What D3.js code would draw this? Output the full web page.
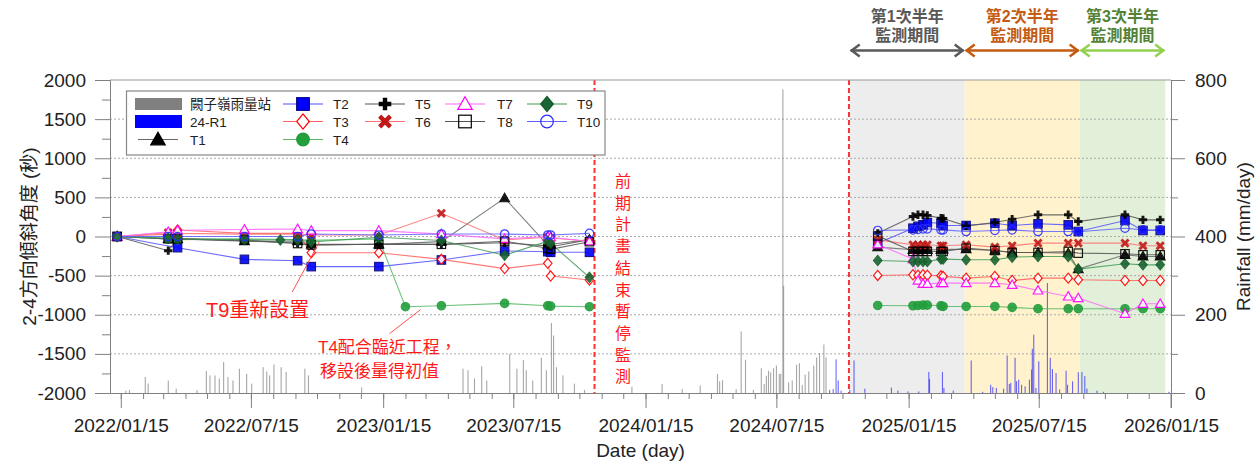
<!DOCTYPE html>
<html>
<head>
<meta charset="utf-8">
<script src="https://cdn.jsdelivr.net/npm/d3@7"></script>
<style>
body { margin: 0; background: #fff; }
svg text { font-family: "Liberation Sans", Arial, "Noto Sans CJK TC", sans-serif; }
.cjk { font-family: "Noto Sans CJK TC", "Liberation Sans", sans-serif; }
</style>
</head>
<body>
<svg id="chart" width="1260" height="461"></svg>
<script>
// survey dates (前期: 2022-2023, 本期: 2024/12 起)
var surveyDates = [
	"2022/01/10", "2022/03/22", "2022/04/04", "2022/07/06", "2022/08/25", "2022/09/18", "2022/10/07",
	"2023/01/09", "2023/02/15", "2023/04/06", "2023/07/03", "2023/09/01", "2023/09/05", "2023/10/29",
	"2024/12/03", "2025/01/21", "2025/01/28", "2025/02/04", "2025/02/10", "2025/03/01", "2025/03/04",
	"2025/04/05", "2025/05/15", "2025/06/08", "2025/07/14", "2025/08/25", "2025/09/08", "2025/11/12",
	"2025/12/07", "2025/12/31"
];
var seriesNames = ["T1", "T2", "T3", "T4", "T5", "T6", "T7", "T8", "T9", "T10"];
var t1 = [0, -30, -30, -60, null, -60, -100, -100, null, -66, 490, -109, -100, -40,
	-136, -170, -175, -170, -170, -170, -165, -162, -179, -204, -204, -213, -417, -234, -255, -255];
var t2 = [0, null, -143, -292, null, -309, -385, -385, null, -300, -185, -194, -202, -202,
	-85, 106, 130, 149, 179, 170, 140, 140, 170, 140, 162, 149, 64, 204, 77, 77];
var t3 = [0, 30, 83, 40, null, 40, -207, -207, null, -292, -410, -343, -505, -556,
	-498, -489, -495, -489, -495, -502, -510, -532, -511, -562, -532, -532, -553, -562, -562, -562];
var t4 = [0, -30, -40, -30, null, -40, -50, -30, -897, -885, -855, -885, -890, -897,
	-881, -885, -881, -877, -877, -885, -894, -894, -894, -906, -923, -923, -923, -923, -923, -923];
var t5 = [0, -181, -30, -55, null, -87, -109, -100, null, -100, -80, -120, -130, -40,
	40, 255, 277, 277, 270, 234, 230, 136, 179, 221, 277, 277, 191, 277, 213, 213];
var t6 = [0, 50, 40, 30, null, 30, 20, 20, null, 296, -45, -10, -20, -60,
	-43, -106, -106, -106, -106, -119, -119, -106, -136, -119, -85, -85, -85, -85, -119, -119];
var t7 = [0, 60, 80, 90, null, 96, 75, 75, null, 30, -30, 0, -10, -60,
	-100, -289, -562, -604, -604, -596, -596, -596, -596, -617, -689, -766, -787, -987, -860, -860];
var t8 = [0, -30, -30, -45, null, -90, -109, -100, null, -100, -60, -150, -164, -66,
	8, -191, -191, -191, -191, -191, -191, -149, -179, -204, -204, -191, -213, -221, -234, -234];
var t9 = [0, -20, -30, -40, -45, -45, -70, -10, null, -52, -240, -60, -87, -522,
	-306, -319, -319, -319, -319, -289, -289, -298, -298, -264, -255, -255, -417, -349, -362, -362];
var t10 = [0, 0, 0, 0, null, 0, 32, 19, null, 32, 32, 19, 19, 40,
	77, 85, 90, 98, 98, 85, 85, 64, 77, 85, 64, 64, 60, 106, 85, 85];

// daily rainfall (mm/day)
var rainStation = [
	["2022/01/22", 6], ["2022/01/27", 8], ["2022/02/18", 41], ["2022/02/22", 24], ["2022/03/22", 32],
	["2022/04/02", 11], ["2022/05/01", 7], ["2022/05/14", 56], ["2022/05/19", 45], ["2022/05/26", 45],
	["2022/06/01", 37], ["2022/06/07", 79], ["2022/06/13", 41], ["2022/06/20", 32], ["2022/06/29", 62],
	["2022/07/09", 49], ["2022/07/16", 24], ["2022/08/01", 66], ["2022/08/06", 55], ["2022/08/10", 45],
	["2022/08/16", 73], ["2022/08/26", 66], ["2022/09/02", 54], ["2022/09/28", 62], ["2022/10/03", 45],
	["2022/12/16", 14], ["2023/05/06", 62], ["2023/05/13", 58], ["2023/05/22", 37], ["2023/06/01", 68],
	["2023/06/08", 32], ["2023/07/10", 100], ["2023/07/20", 62], ["2023/07/29", 84], ["2023/08/02", 58],
	["2023/08/11", 32], ["2023/08/23", 90], ["2023/08/30", 58], ["2023/09/06", 179], ["2023/09/09", 147],
	["2023/09/13", 66], ["2023/09/22", 45], ["2023/10/08", 24], ["2023/10/22", 8], ["2023/12/27", 16],
	["2024/02/07", 23], ["2024/03/06", 10], ["2024/03/31", 19], ["2024/04/24", 49], ["2024/04/27", 30],
	["2024/05/01", 33], ["2024/05/20", 10], ["2024/05/27", 157], ["2024/06/02", 85], ["2024/06/13", 8],
	["2024/06/24", 63], ["2024/06/28", 23], ["2024/07/01", 44], ["2024/07/04", 57], ["2024/07/07", 53],
	["2024/07/11", 63], ["2024/07/15", 70], ["2024/07/19", 49], ["2024/07/21", 49], ["2024/07/24", 776],
	["2024/07/25", 274], ["2024/08/01", 27], ["2024/08/06", 32], ["2024/08/12", 72], ["2024/08/16", 76],
	["2024/08/20", 20], ["2024/08/24", 47], ["2024/08/29", 55], ["2024/09/05", 70], ["2024/09/09", 91],
	["2024/09/13", 102], ["2024/09/19", 124], ["2024/09/22", 91]
];
var rain24R1 = [
	["2024/09/27", 8], ["2024/10/02", 10], ["2024/10/06", 86], ["2024/10/09", 32], ["2024/10/13", 6],
	["2024/10/25", 8], ["2024/10/31", 83], ["2024/11/15", 11], ["2024/12/22", 14], ["2024/12/31", 6],
	["2025/01/14", 4], ["2025/01/29", 4], ["2025/02/12", 54], ["2025/02/13", 36], ["2025/03/03", 54],
	["2025/03/05", 13], ["2025/03/18", 6], ["2025/04/12", 83], ["2025/04/28", 3], ["2025/05/09", 21],
	["2025/05/12", 15], ["2025/05/17", 13], ["2025/05/27", 11], ["2025/06/01", 96], ["2025/06/04", 23],
	["2025/06/06", 26], ["2025/06/12", 90], ["2025/06/14", 30], ["2025/06/17", 34], ["2025/06/21", 21],
	["2025/06/26", 17], ["2025/07/02", 34], ["2025/07/05", 60], ["2025/07/06", 113], ["2025/07/08", 149],
	["2025/07/11", 13], ["2025/07/15", 81], ["2025/07/27", 281], ["2025/07/31", 90], ["2025/08/03", 61],
	["2025/08/08", 51], ["2025/08/13", 9], ["2025/08/22", 57], ["2025/08/24", 21], ["2025/08/31", 30],
	["2025/09/08", 53], ["2025/09/13", 54], ["2025/09/17", 43], ["2025/09/20", 11], ["2025/10/04", 6],
	["2025/10/13", 3], ["2026/01/12", 3]
];

var periodLabels = [["第1次半年", "監測期間"], ["第2次半年", "監測期間"], ["第3次半年", "監測期間"]];
var periodStart = ["2024/10/25", "2025/04/03", "2025/09/10"];
var periodEnd = ["2025/04/03", "2025/09/10", "2026/01/07"];
var breakDates = ["2023/11/05", "2024/10/24"];
var xTickDates = ["2022/01/15", "2022/07/15", "2023/01/15", "2023/07/15", "2024/01/15",
	"2024/07/15", "2025/01/15", "2025/07/15", "2026/01/15"];

var parse = d3.timeParse("%Y/%m/%d");
var svg = d3.select("#chart");
var L = 110, R = 1171, T = 80, B = 393;

var x = d3.scaleTime().domain([parse("2021/12/31"), parse("2026/01/15")]).range([L, R]);
var y = d3.scaleLinear().domain([-2000, 2000]).range([B, T]);
var yR = d3.scaleLinear().domain([0, 800]).range([B, T]);

var allSeries = [t1, t2, t3, t4, t5, t6, t7, t8, t9, t10];
var styles = [
	{shape: "triangle", color: "#000", fill: "#000", line: "#666"},
	{shape: "square", color: "#000080", fill: "#0000ff", line: "#5050ff"},
	{shape: "diamond", color: "#ff0000", fill: "#fff", line: "#ff6060"},
	{shape: "circle", color: "#1f9a3a", fill: "#22a03c", line: "#55b865"},
	{shape: "plus", color: "#000", fill: "none", line: "#555"},
	{shape: "cross", color: "#c01818", fill: "none", line: "#ff7070"},
	{shape: "triangle", color: "#ff00ff", fill: "#fff", line: "#ff66ff"},
	{shape: "square", color: "#000", fill: "none", line: "#555"},
	{shape: "diamond", color: "#145a2a", fill: "#1a6632", line: "#3f9a55"},
	{shape: "circle", color: "#2a2aff", fill: "none", line: "#6060ff"}
];
var periodColors = [
	{bg: "#ededed", arrow: "#595959", text: "#595959"},
	{bg: "#fff2cc", arrow: "#c55a11", text: "#c55a11"},
	{bg: "#e2f0d9", arrow: "#92d050", text: "#548235"}
];

// shaded monitoring periods
periodStart.forEach(function(s, i) {
	var x0 = x(parse(s)), x1 = x(parse(periodEnd[i]));
	svg.append("rect").attr("x", x0).attr("y", T).attr("width", x1 - x0).attr("height", B - T)
		.attr("fill", periodColors[i].bg);
	// arrow
	var ay = 50.5, g = svg.append("g").attr("stroke", periodColors[i].arrow)
		.attr("stroke-width", 2.5).attr("fill", "none");
	g.append("line").attr("x1", x0 + 1).attr("x2", x1 - 1).attr("y1", ay).attr("y2", ay);
	g.append("path").attr("d", "M" + (x0 + 10) + "," + (ay - 6) + "L" + (x0 + 2) + "," + ay + "L" + (x0 + 10) + "," + (ay + 6));
	g.append("path").attr("d", "M" + (x1 - 10) + "," + (ay - 6) + "L" + (x1 - 2) + "," + ay + "L" + (x1 - 10) + "," + (ay + 6));
	var cx = (x0 + x1) / 2;
	svg.append("text").attr("x", cx).attr("y", 22).attr("text-anchor", "middle")
		.attr("font-size", 16).attr("font-weight", "bold").attr("fill", periodColors[i].text)
		.text(periodLabels[i][0]);
	svg.append("text").attr("x", cx).attr("y", 41).attr("text-anchor", "middle")
		.attr("font-size", 16).attr("font-weight", "bold").attr("fill", periodColors[i].text)
		.text(periodLabels[i][1]);
});

// dotted grid
svg.append("g").selectAll("line").data(d3.range(-1500, 2000, 500)).enter().append("line")
	.attr("x1", L).attr("x2", R).attr("y1", function(d) { return y(d); }).attr("y2", function(d) { return y(d); })
	.attr("stroke", "#aaa").attr("stroke-width", 1).attr("stroke-dasharray", "2,2");

// rainfall bars
svg.append("g").selectAll("rect").data(rainStation).enter().append("rect")
	.attr("x", function(d) { return x(parse(d[0])) - 0.5; })
	.attr("y", function(d) { return yR(d[1]); })
	.attr("width", 1.1)
	.attr("height", function(d) { return B - yR(d[1]); })
	.attr("fill", "#8a8a8a").attr("opacity", 0.75);
svg.append("g").selectAll("rect").data(rain24R1).enter().append("rect")
	.attr("x", function(d) { return x(parse(d[0])) - 0.5; })
	.attr("y", function(d) { return yR(d[1]); })
	.attr("width", 1.1)
	.attr("height", function(d) { return B - yR(d[1]); })
	.attr("fill", "#1a1aff").attr("opacity", 0.65);

// red dashed breaks
breakDates.forEach(function(d) {
	svg.append("line").attr("x1", x(parse(d))).attr("x2", x(parse(d))).attr("y1", T).attr("y2", B)
		.attr("stroke", "#ff3030").attr("stroke-width", 2).attr("stroke-dasharray", "5,3");
});

// markers
function marker(g, shape, r, st) {
	var p;
	if (shape == "circle") {
		p = g.append("circle").attr("r", r);
	} else if (shape == "square") {
		p = g.append("rect").attr("x", -r).attr("y", -r).attr("width", 2 * r).attr("height", 2 * r);
	} else if (shape == "triangle") {
		p = g.append("path").attr("d", "M0," + (-r * 1.15) + "L" + (r * 1.15) + "," + (r * 0.85) + "L" + (-r * 1.15) + "," + (r * 0.85) + "Z");
	} else if (shape == "diamond") {
		p = g.append("path").attr("d", "M0," + (-r * 1.2) + "L" + r + ",0L0," + (r * 1.2) + "L" + (-r) + ",0Z");
	} else if (shape == "plus") {
		p = g.append("path").attr("d", "M" + (-r) + ",0H" + r + "M0," + (-r) + "V" + r);
		return p.attr("stroke", st.color).attr("stroke-width", r * 0.7).attr("fill", "none");
	} else {
		var k = r * 0.85;
		p = g.append("path").attr("d", "M" + (-k) + "," + (-k) + "L" + k + "," + k + "M" + k + "," + (-k) + "L" + (-k) + "," + k);
		return p.attr("stroke", st.color).attr("stroke-width", r * 0.7).attr("fill", "none");
	}
	return p.attr("fill", st.fill).attr("stroke", st.color).attr("stroke-width", 1.2);
}

var cut = parse("2024/01/01");
var line = d3.line().x(function(d) { return x(d.date); }).y(function(d) { return y(d.v); });
var gSeries = svg.append("g");
allSeries.forEach(function(vals, i) {
	var pts = [];
	vals.forEach(function(v, j) {
		if (v != null) pts.push({date: parse(surveyDates[j]), v: v});
	});
	var parts = [pts.filter(function(d) { return d.date < cut; }), pts.filter(function(d) { return d.date >= cut; })];
	parts.forEach(function(p) {
		gSeries.append("path").attr("d", line(p)).attr("fill", "none")
			.attr("stroke", styles[i].line).attr("stroke-width", 1.1).attr("opacity", 0.85);
	});
});
allSeries.forEach(function(vals, i) {
	vals.forEach(function(v, j) {
		if (v == null) return;
		var g = gSeries.append("g").attr("transform", "translate(" + x(parse(surveyDates[j])) + "," + y(v) + ")");
		marker(g, styles[i].shape, 4.2, styles[i]).attr("opacity", 0.9);
	});
});

// axes
var axisColor = "#808080";
var plainNum = function(d) { return String(d); };
function styleAxis(g) {
	g.selectAll("path,line").attr("stroke", axisColor);
	g.selectAll("text").attr("fill", "#222").attr("font-size", 19);
}
svg.append("line").attr("x1", L).attr("x2", R).attr("y1", T).attr("y2", T).attr("stroke", "#999");

var monthTicks = d3.timeMonth.range(parse("2022/01/01"), parse("2026/01/02")).map(function(d) {
	return d3.timeDay.offset(d, 14);
});
svg.append("g").attr("transform", "translate(0," + B + ")")
	.call(d3.axisBottom(x).tickValues(monthTicks).tickSize(6).tickSizeOuter(0).tickFormat(""))
	.call(styleAxis);
svg.append("g").attr("transform", "translate(0," + B + ")")
	.call(d3.axisBottom(x).tickValues(xTickDates.map(parse)).tickSize(15).tickSizeOuter(0).tickPadding(11)
		.tickFormat(d3.timeFormat("%Y/%m/%d")))
	.call(styleAxis);

svg.append("g").attr("transform", "translate(" + L + ",0)")
	.call(d3.axisLeft(y).tickValues(d3.range(-1750, 2000, 500)).tickSize(8).tickSizeOuter(0).tickFormat(""))
	.call(styleAxis);
svg.append("g").attr("transform", "translate(" + L + ",0)")
	.call(d3.axisLeft(y).tickValues(d3.range(-2000, 2001, 500)).tickSize(15).tickSizeOuter(0).tickPadding(9)
		.tickFormat(plainNum))
	.call(styleAxis);

svg.append("g").attr("transform", "translate(" + R + ",0)")
	.call(d3.axisRight(yR).tickValues(d3.range(100, 800, 200)).tickSize(7).tickSizeOuter(0).tickFormat(""))
	.call(styleAxis);
svg.append("g").attr("transform", "translate(" + R + ",0)")
	.call(d3.axisRight(yR).tickValues(d3.range(0, 801, 200)).tickSize(14).tickSizeOuter(0).tickPadding(10)
		.tickFormat(plainNum))
	.call(styleAxis);
svg.append("line").attr("x1", R).attr("x2", R).attr("y1", B).attr("y2", B + 15).attr("stroke", axisColor);

// axis titles
svg.append("text").attr("transform", "translate(36," + ((T + B) / 2) + ") rotate(-90)")
	.attr("text-anchor", "middle").attr("font-size", 19).attr("fill", "#222")
	.text("2-4方向傾斜角度 (秒)");
svg.append("text").attr("transform", "translate(1250," + ((T + B) / 2) + ") rotate(-90)")
	.attr("text-anchor", "middle").attr("font-size", 19).attr("fill", "#222")
	.text("Rainfall (mm/day)");
svg.append("text").attr("x", (L + R) / 2).attr("y", 457).attr("text-anchor", "middle")
	.attr("font-size", 19).attr("fill", "#222").text("Date (day)");

// annotations
var red = "#ff1a1a";
var t9x = x(parse("2022/10/07")), t9y = y(-70);
svg.append("line").attr("x1", t9x - 19).attr("y1", t9y + 50).attr("x2", t9x + 8).attr("y2", t9y)
	.attr("stroke", "#ff5050").attr("stroke-width", 1);
svg.append("text").attr("x", 206).attr("y", 317).attr("font-size", 20).attr("fill", red).text("T9重新設置");
var t4x = x(parse("2023/03/08")), t4y = y(-935);
svg.append("line").attr("x1", t4x).attr("y1", t4y).attr("x2", t4x - 31).attr("y2", t4y + 24)
	.attr("stroke", "#ff5050").attr("stroke-width", 1);
svg.append("text").attr("x", 318).attr("y", 353).attr("font-size", 17).attr("fill", red).text("T4配合臨近工程，");
svg.append("text").attr("x", 320).attr("y", 377).attr("font-size", 17).attr("fill", red).text("移設後量得初值");
var vt = svg.append("text").attr("class", "cjk").attr("font-size", 16).attr("fill", red).attr("text-anchor", "middle");
"前期計畫結束暫停監測".split("").forEach(function(c, i) {
	vt.append("tspan").attr("x", 623).attr("y", 187 + i * 21.7).text(c);
});

// legend
var lg = svg.append("g");
lg.append("rect").attr("x", 126.5).attr("y", 91).attr("width", 478.5).attr("height", 64)
	.attr("fill", "#fff").attr("stroke", "#888").attr("stroke-width", 1.2);
lg.append("rect").attr("x", 135).attr("y", 98).attr("width", 47).attr("height", 12).attr("fill", "#808080");
lg.append("rect").attr("x", 135).attr("y", 115).attr("width", 47).attr("height", 13).attr("fill", "#0000ff");
lg.append("text").attr("x", 190).attr("y", 109).attr("font-size", 13.5).attr("fill", "#222").text("闕子嶺雨量站");
lg.append("text").attr("x", 190).attr("y", 126.5).attr("font-size", 13.5).attr("fill", "#222").text("24-R1");
var colX = [138, 283, 365, 445, 527];
var rowY = [104, 121.5, 139.5];
var slots = [[0, 2], [1, 0], [1, 1], [1, 2], [2, 0], [2, 1], [3, 0], [3, 1], [4, 0], [4, 1]];
seriesNames.forEach(function(name, i) {
	var cxL = colX[slots[i][0]], cy = rowY[slots[i][1]];
	lg.append("line").attr("x1", cxL).attr("x2", cxL + 40).attr("y1", cy).attr("y2", cy)
		.attr("stroke", styles[i].line).attr("stroke-width", 1.1);
	var g = lg.append("g").attr("transform", "translate(" + (cxL + 20) + "," + cy + ")");
	marker(g, styles[i].shape, 6.3, styles[i]);
	lg.append("text").attr("x", cxL + (slots[i][0] == 0 ? 52 : slots[i][0] == 3 ? 52 : 50)).attr("y", cy + 5)
		.attr("font-size", 13.5).attr("fill", "#222").text(name);
});
</script>
</body>
</html>
